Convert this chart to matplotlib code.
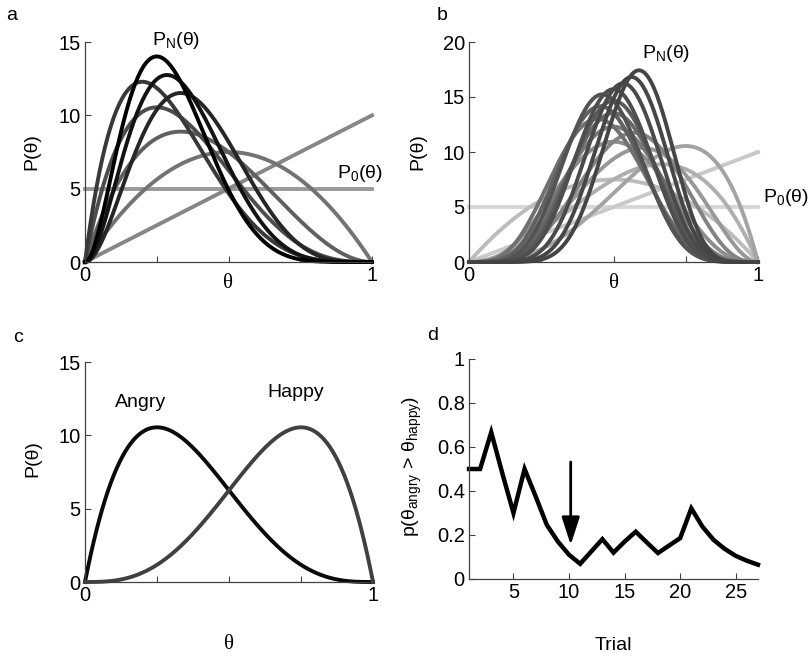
import math
import numpy as np
import matplotlib
matplotlib.use("Agg")
import matplotlib.pyplot as plt

plt.rcParams['font.family'] = ['Liberation Sans', 'DejaVu Sans']
plt.rcParams['mathtext.fontset'] = 'custom'
plt.rcParams['mathtext.rm'] = 'Liberation Sans'
plt.rcParams['mathtext.it'] = 'Liberation Sans:italic'

# ---- data ----
# panel a: beta posterior parameters after each observation
a_alpha = [1, 2, 2, 2, 2, 2, 3, 3, 3]
a_beta = [1, 1, 2, 3, 4, 5, 5, 6, 7]
# panel b: longer sequence of observations
b_alpha = [1, 2, 2, 3, 4, 4, 4, 5, 5, 5, 6, 6, 7, 7, 8, 9, 10, 11]
b_beta = [1, 1, 2, 2, 2, 3, 4, 4, 5, 6, 6, 7, 7, 8, 8, 8, 8, 8]
# panel c: final beliefs for the two faces
c_labels = ['Angry', 'Happy']
c_alpha = [2, 4]
c_beta = [4, 2]
# the y values are plotted as density * 5
density_scale = 5

# panel d: p(theta_angry > theta_happy) per trial
trials = list(range(1, 28))
p_angry = [0.50, 0.50, 0.667, 0.48, 0.30, 0.50, 0.375, 0.246, 0.17, 0.11,
           0.069, 0.125, 0.181, 0.12, 0.17, 0.215, 0.166, 0.118, 0.152, 0.186,
           0.321, 0.238, 0.178, 0.137, 0.105, 0.083, 0.065]
arrow_trial = 10.15

theta = np.linspace(0, 1, 201)


def beta_pdf(x, a, b):
    lb = math.lgamma(a) + math.lgamma(b) - math.lgamma(a + b)
    return np.exp(-lb) * x ** (a - 1) * (1 - x) ** (b - 1)


W, H = 811, 657
fig = plt.figure(figsize=(W / 100, H / 100), dpi=100)


def px_axes(l, r, t, b):
    ax = fig.add_axes([l / W, 1 - b / H, (r - l) / W, (b - t) / H])
    for s in ['top', 'right']:
        ax.spines[s].set_visible(False)
    for s in ['left', 'bottom']:
        ax.spines[s].set_color('#404040')
        ax.spines[s].set_linewidth(0.9)
    ax.tick_params(direction='in', length=4, width=0.8, color='#404040',
                   labelsize=14.5, pad=3)
    return ax


def theta_axes(ax, ymax, ystep):
    ax.set_xlim(0, 1)
    ax.set_ylim(0, ymax)
    ax.set_xticks([0, 0.25, 0.5, 0.75, 1])
    ax.set_xticklabels(['0', '', '', '', '1'])
    ax.set_yticks(np.arange(0, ymax + 1, ystep))
    ax.set_ylabel('P(θ)', fontsize=14)
    ax.set_xlabel('θ', fontsize=15, family=['Liberation Serif', 'DejaVu Serif'])
    ax.xaxis.label.set_va('center')
    ax.yaxis.label.set_va('center')


# ---- panel a ----
ax1 = px_axes(85, 372, 42, 262)
greys = np.linspace(0.6, 0.0, len(a_alpha))
for al, be, g in zip(a_alpha, a_beta, greys):
    ax1.plot(theta, density_scale * beta_pdf(theta, al, be), color=str(g), lw=2.8,
             clip_on=False)
theta_axes(ax1, 15, 5)
ax1.xaxis.set_label_coords(0.5, -0.1)
ax1.yaxis.set_label_coords(-0.185, 0.5)
ax1.text(0.235, 15.1, r'P$_\mathrm{N}$(θ)', fontsize=14, va='center')
ax1.text(0.878, 6.0, r'P$_\mathrm{0}$(θ)', fontsize=14, va='center')

# ---- panel b ----
ax2 = px_axes(469, 758, 42, 262)
greys = 0.27 + 0.57 * np.linspace(1, 0, len(b_alpha)) ** 1.6
for al, be, g in zip(b_alpha, b_beta, greys):
    ax2.plot(theta, density_scale * beta_pdf(theta, al, be), color=str(g), lw=2.8,
             clip_on=False)
theta_axes(ax2, 20, 5)
ax2.xaxis.set_label_coords(0.5, -0.1)
ax2.yaxis.set_label_coords(-0.176, 0.5)
ax2.text(0.599, 19.0, r'P$_\mathrm{N}$(θ)', fontsize=14, va='center')
ax2.text(1.017, 5.9, r'P$_\mathrm{0}$(θ)', fontsize=14, va='center')

# ---- panel c ----
ax3 = px_axes(85, 373, 362, 582)
c_colors = ['#0a0a0a', '#404040']
for al, be, col in zip(c_alpha, c_beta, c_colors):
    ax3.plot(theta, density_scale * beta_pdf(theta, al, be), color=col, lw=2.8,
             clip_on=False)
theta_axes(ax3, 15, 5)
ax3.xaxis.set_label_coords(0.5, -0.286)
ax3.yaxis.set_label_coords(-0.18, 0.56)
ax3.text(0.104, 12.25, c_labels[0], fontsize=14, va='center')
ax3.text(0.632, 12.9, c_labels[1], fontsize=14, va='center')

# ---- panel d ----
ax4 = px_axes(469, 758, 359, 579)
ax4.plot(trials, p_angry, color='black', lw=3.2, solid_joinstyle='miter', clip_on=False)
ax4.set_xlim(1, 27)
ax4.set_ylim(0, 1)
ax4.set_xticks([5, 10, 15, 20, 25])
ax4.set_yticks([0, 0.2, 0.4, 0.6, 0.8, 1])
ax4.set_yticklabels(['0', '0.2', '0.4', '0.6', '0.8', '1'])
ax4.set_xlabel('Trial', fontsize=14)
ax4.xaxis.label.set_va('center')
ax4.xaxis.set_label_coords(0.5, -0.3)
ax4.set_ylabel(r'p(θ$_\mathrm{angry}$ > θ$_\mathrm{happy}$)', fontsize=14)
ax4.yaxis.label.set_va('center')
ax4.yaxis.set_label_coords(-0.197, 0.51)
ax4.annotate('', xy=(arrow_trial, 0.155), xytext=(arrow_trial, 0.532),
             arrowprops=dict(arrowstyle='-|>,head_length=1.7,head_width=0.55',
                             color='black', lw=2, shrinkA=0, shrinkB=0))

# panel letters
for lab, x, y in [('a', 12, 15), ('b', 442, 15), ('c', 18, 337), ('d', 433, 335)]:
    fig.text(x / W, 1 - y / H, lab, fontsize=14, ha='center', va='center')

fig.savefig('out.png', dpi=100)
